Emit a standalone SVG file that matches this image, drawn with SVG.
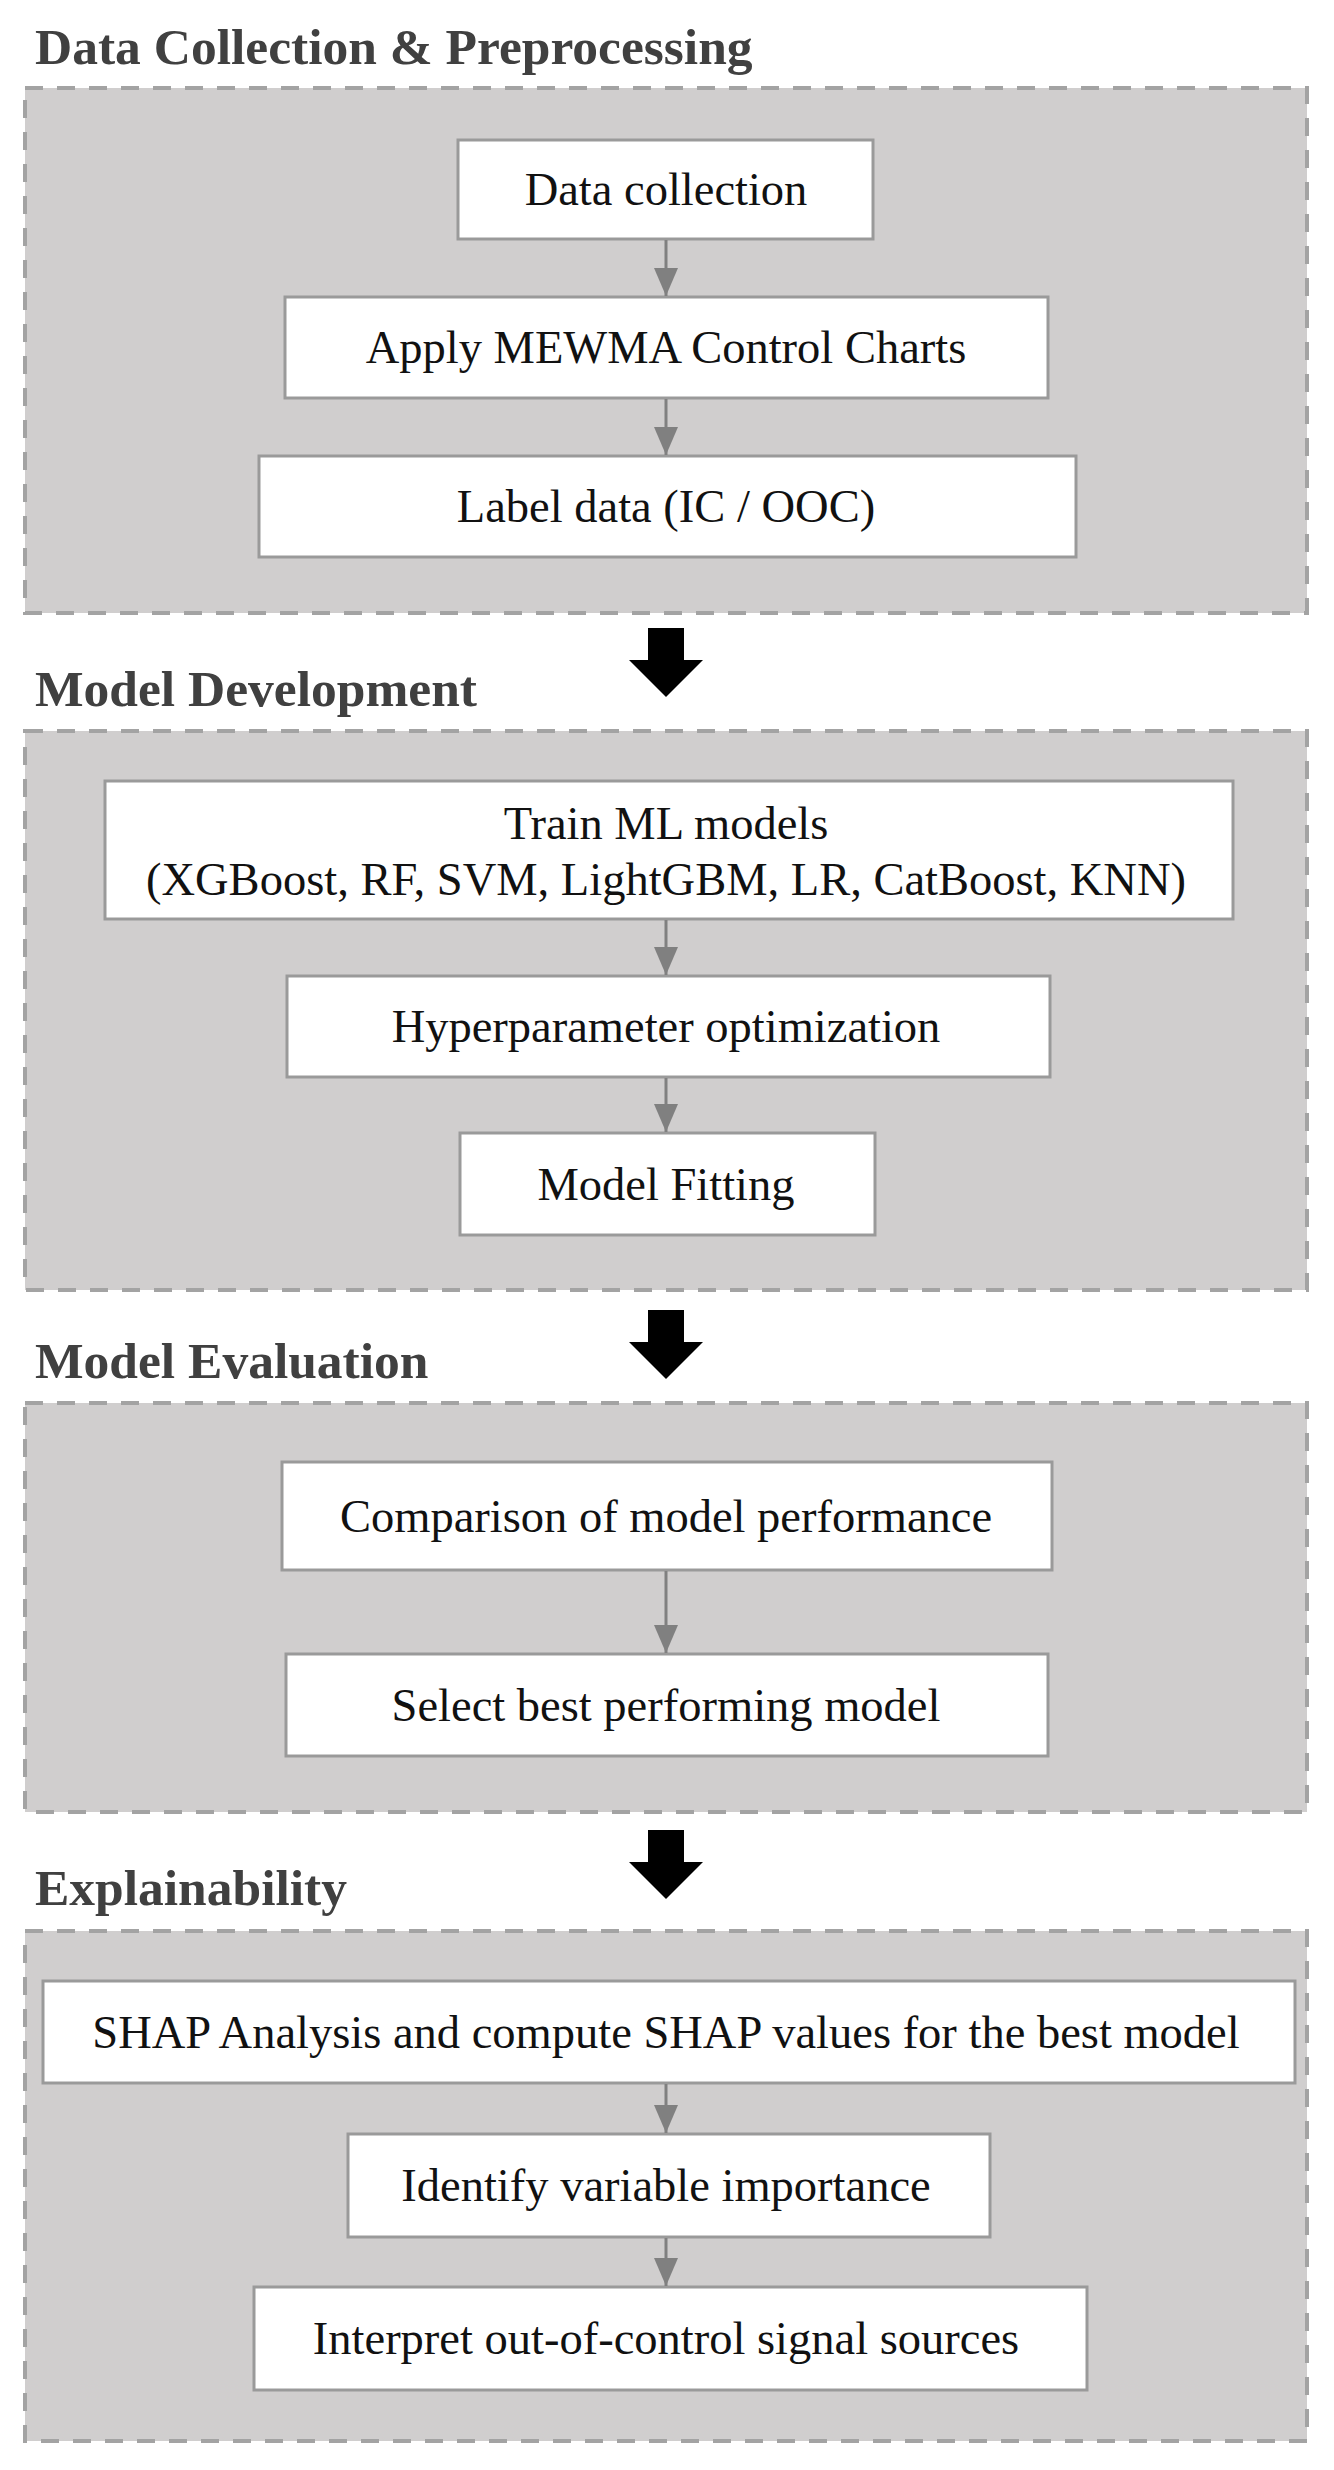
<svg xmlns="http://www.w3.org/2000/svg" width="1334" height="2470" viewBox="0 0 1334 2470">
  <style>
    .title { font-family: "Liberation Serif", "Times New Roman", serif; font-weight: bold; font-size: 51.5px; fill: #404040; }
    .panel { fill: #d0cece; stroke: #a3a3a3; stroke-width: 4; stroke-dasharray: 18 14; }
    .node rect { fill: #ffffff; stroke: #9a9a9a; stroke-width: 3; }
    .node text { font-family: "Liberation Serif", "Times New Roman", serif; font-size: 46.5px; fill: #111111; text-anchor: middle; }
    .conn { stroke: #808080; stroke-width: 3; fill: none; marker-end: url(#ah); }
    .big { fill: #000000; }
  </style>
  <defs>
    <marker id="ah" markerUnits="userSpaceOnUse" markerWidth="28" markerHeight="24" viewBox="0 0 28 24" refX="28" refY="12" orient="auto">
      <path d="M0,0 L28,12 L0,24 Z" fill="#808080"/>
    </marker>
  </defs>
  <rect width="1334" height="2470" fill="#ffffff"/>

  <!-- Section panels and titles -->
  <g id="section-data">
    <text class="title" x="35" y="64">Data Collection &amp; Preprocessing</text>
    <rect class="panel" x="25" y="88" width="1282" height="525"/>
  </g>
  <g id="section-model-dev">
    <text class="title" x="35" y="706">Model Development</text>
    <rect class="panel" x="25" y="731" width="1282" height="559"/>
  </g>
  <g id="section-eval">
    <text class="title" x="35" y="1378">Model Evaluation</text>
    <rect class="panel" x="25" y="1403" width="1282" height="409"/>
  </g>
  <g id="section-explain">
    <text class="title" x="35" y="1905">Explainability</text>
    <rect class="panel" x="25" y="1931" width="1282" height="510"/>
  </g>

  <!-- Nodes -->
  <g id="n-data-collection" class="node">
    <rect x="458" y="140" width="415" height="99"/>
    <text x="666" y="205">Data collection</text>
  </g>
  <g id="n-mewma" class="node">
    <rect x="285" y="297" width="763" height="101"/>
    <text x="666" y="363">Apply MEWMA Control Charts</text>
  </g>
  <g id="n-label" class="node">
    <rect x="259" y="456" width="817" height="101"/>
    <text x="666" y="522">Label data (IC / OOC)</text>
  </g>

  <g id="n-train" class="node">
    <rect x="105" y="781" width="1128" height="138"/>
    <text x="666" y="839">Train ML models</text>
    <text x="666" y="895">(XGBoost, RF, SVM, LightGBM, LR, CatBoost, KNN)</text>
  </g>
  <g id="n-hyper" class="node">
    <rect x="287" y="976" width="763" height="101"/>
    <text x="666" y="1042">Hyperparameter optimization</text>
  </g>
  <g id="n-fit" class="node">
    <rect x="460" y="1133" width="415" height="102"/>
    <text x="666" y="1200">Model Fitting</text>
  </g>

  <g id="n-compare" class="node">
    <rect x="282" y="1462" width="770" height="108"/>
    <text x="666" y="1532">Comparison of model performance</text>
  </g>
  <g id="n-select" class="node">
    <rect x="286" y="1654" width="762" height="102"/>
    <text x="666" y="1721">Select best performing model</text>
  </g>

  <g id="n-shap" class="node">
    <rect x="43" y="1981" width="1252" height="102"/>
    <text x="666" y="2048">SHAP Analysis and compute SHAP values for the best model</text>
  </g>
  <g id="n-identify" class="node">
    <rect x="348" y="2134" width="642" height="103"/>
    <text x="666" y="2201">Identify variable importance</text>
  </g>
  <g id="n-interpret" class="node">
    <rect x="254" y="2287" width="833" height="103"/>
    <text x="666" y="2354">Interpret out-of-control signal sources</text>
  </g>

  <!-- Connectors -->
  <g id="connectors">
    <line class="conn" x1="666" y1="240" x2="666" y2="296"/>
    <line class="conn" x1="666" y1="399" x2="666" y2="455"/>
    <line class="conn" x1="666" y1="920" x2="666" y2="975"/>
    <line class="conn" x1="666" y1="1078" x2="666" y2="1132"/>
    <line class="conn" x1="666" y1="1571" x2="666" y2="1653"/>
    <line class="conn" x1="666" y1="2084" x2="666" y2="2133"/>
    <line class="conn" x1="666" y1="2238" x2="666" y2="2286"/>
    <polygon class="big" points="648,628 684,628 684,660 703,660 666,697 629,660 648,660"/>
    <polygon class="big" points="648,1310 684,1310 684,1342 703,1342 666,1379 629,1342 648,1342"/>
    <polygon class="big" points="648,1830 684,1830 684,1862 703,1862 666,1899 629,1862 648,1862"/>
  </g>
</svg>
